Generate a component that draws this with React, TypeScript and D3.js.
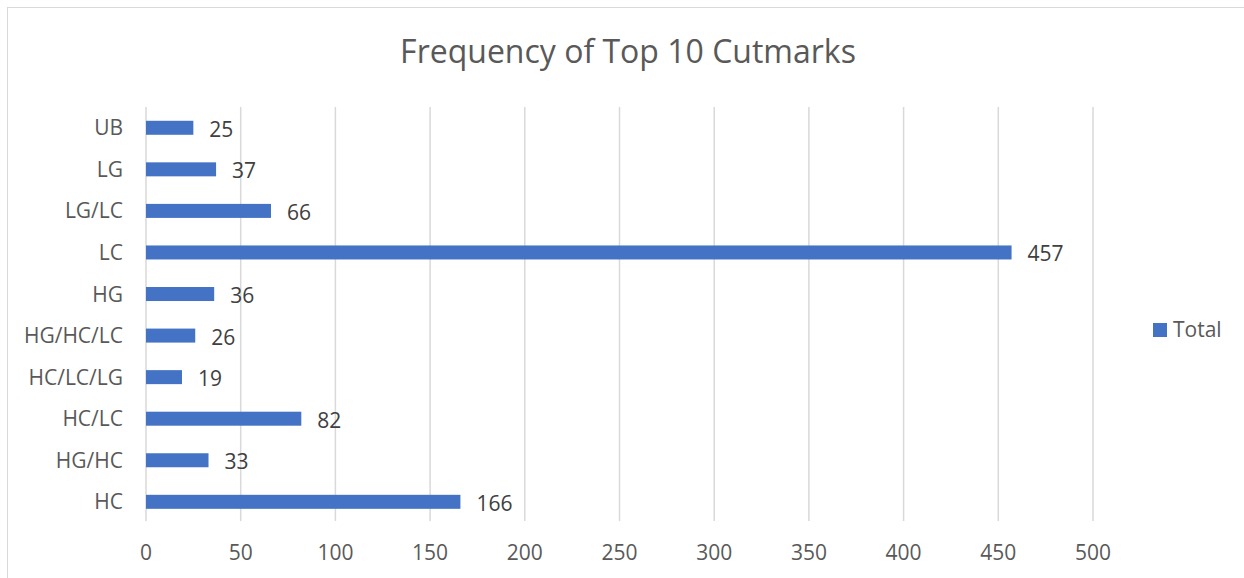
import React from "react";
import * as d3 from "d3";

// Cutmark categories, listed bottom to top as they appear on the axis
const categories = ["HC", "HG/HC", "HC/LC", "HC/LC/LG", "HG/HC/LC", "HG", "LC", "LG/LC", "LG", "UB"];
const totals = [166, 33, 82, 19, 26, 36, 457, 66, 37, 25];
const xTicks = [0, 50, 100, 150, 200, 250, 300, 350, 400, 450, 500];
const seriesName = "Total";
const title = "Frequency of Top 10 Cutmarks";

const W = 1244;
const H = 578;
const FONT = "'Open Sans', sans-serif";

export default function App() {
  const plot = { left: 146, right: 1093, top: 107, bottom: 522.6 };

  const x = d3.scaleLinear().domain([0, 500]).range([plot.left, plot.right]);
  // top of the plot holds the last category
  const y = d3
    .scaleBand<string>()
    .domain([...categories].reverse())
    .range([plot.top, plot.bottom])
    .paddingInner(0)
    .paddingOuter(0);

  const barH = 14;
  const rows = categories.map((c, i) => ({ cat: c, value: totals[i] }));

  return (
    <svg
      width={W}
      height={H}
      style={{ position: "absolute", left: 0, top: 0, display: "block", background: "#fff" }}
    >
      <rect x={7.5} y={7.5} width={W + 10} height={H + 10} fill="#fff" stroke="#D9D9D9" strokeWidth={1} />

      <text x={628} y={63} textAnchor="middle" fontFamily={FONT} fontSize={32} fill="#595959">
        {title}
      </text>

      {/* vertical gridlines */}
      {xTicks.map((t) => (
        <line
          key={"g" + t}
          x1={x(t)}
          x2={x(t)}
          y1={plot.top}
          y2={521}
          stroke="#D9D9D9"
          strokeWidth={1.5}
        />
      ))}

      {/* x tick labels */}
      {xTicks.map((t) => (
        <text
          key={"t" + t}
          x={x(t)}
          y={560}
          textAnchor="middle"
          fontFamily={FONT}
          fontSize={21}
          fill="#595959"
        >
          {t}
        </text>
      ))}

      {rows.map((r) => {
        const cy = (y(r.cat) as number) + y.bandwidth() / 2;
        return (
          <g key={r.cat}>
            <rect
              x={x(0)}
              y={cy - barH / 2}
              width={x(r.value) - x(0)}
              height={barH}
              fill="#4472C4"
            />
            <text
              x={123}
              y={cy + 7.5}
              textAnchor="end"
              fontFamily={FONT}
              fontSize={21}
              fill="#595959"
            >
              {r.cat}
            </text>
            <text
              x={x(r.value) + 16}
              y={cy + 9}
              fontFamily={FONT}
              fontSize={21}
              fill="#404040"
            >
              {r.value}
            </text>
          </g>
        );
      })}

      {/* legend */}
      <rect x={1153} y={323} width={14} height={14} fill="#4472C4" />
      <text x={1173} y={337} fontFamily={FONT} fontSize={21} fill="#595959">
        {seriesName}
      </text>
    </svg>
  );
}
